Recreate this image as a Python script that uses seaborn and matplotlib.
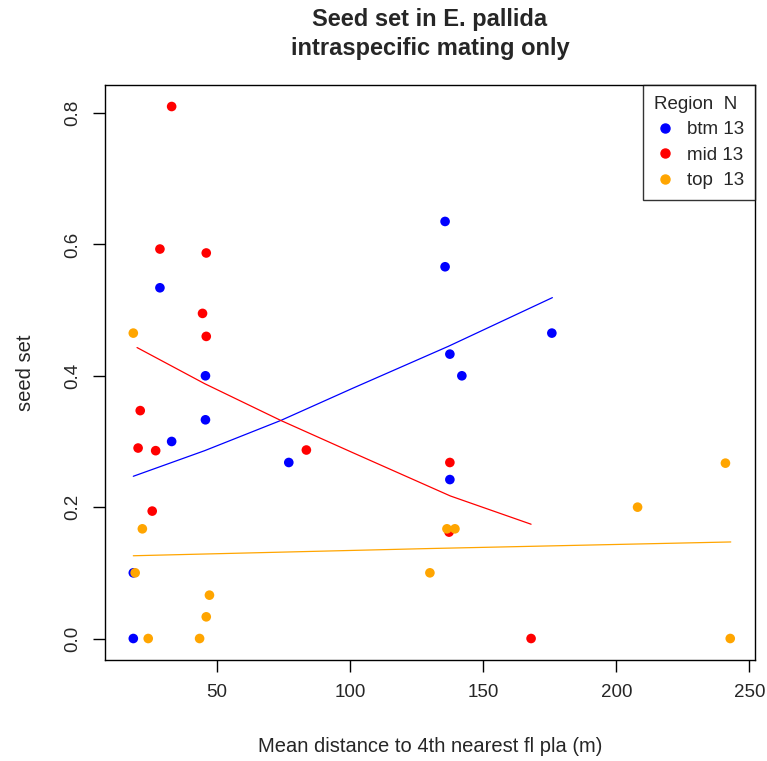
import numpy as np
import pandas as pd
import seaborn as sns
import matplotlib.pyplot as plt
from matplotlib.lines import Line2D

# Werte
btm_x = [18.6, 18.6, 28.6, 33.0, 45.7, 45.7, 77.0, 135.7, 135.7, 137.5, 142.0, 137.5, 175.8]
btm_y = [0.100, 0.000, 0.534, 0.300, 0.400, 0.333, 0.268, 0.635, 0.566, 0.433, 0.400, 0.242, 0.465]

mid_x = [33.0, 28.6, 46.0, 44.6, 46.0, 21.2, 20.4, 27.0, 25.7, 83.6, 137.5, 137.2, 168.0]
mid_y = [0.810, 0.593, 0.587, 0.495, 0.460, 0.347, 0.290, 0.286, 0.194, 0.287, 0.268, 0.162, 0.000]

top_x = [18.6, 22.0, 19.3, 24.2, 43.5, 46.0, 47.2, 136.4, 139.4, 130.0, 208.0, 241.0, 242.8]
top_y = [0.465, 0.167, 0.100, 0.000, 0.000, 0.033, 0.066, 0.167, 0.167, 0.100, 0.200, 0.267, 0.000]

# Angepasste Kurven
btm_fit_x = [18.6, 45.4, 74.0, 101.0, 137.0, 176.0]
btm_fit_y = [0.247, 0.286, 0.332, 0.381, 0.445, 0.519]
mid_fit_x = [20.0, 45.4, 74.0, 101.0, 137.7, 168.0]
mid_fit_y = [0.443, 0.388, 0.332, 0.283, 0.217, 0.174]
top_fit_x = [18.6, 130.0, 243.0]
top_fit_y = [0.126, 0.137, 0.147]

regions = ["btm", "mid", "top"]
farben = {"btm": "#0000FF", "mid": "#FF0000", "top": "#FFA500"}

df = pd.DataFrame({
    "dist": btm_x + mid_x + top_x,
    "seed": btm_y + mid_y + top_y,
    "region": ["btm"] * len(btm_x) + ["mid"] * len(mid_x) + ["top"] * len(top_x),
})
fits = pd.DataFrame({
    "dist": btm_fit_x + mid_fit_x + top_fit_x,
    "seed": btm_fit_y + mid_fit_y + top_fit_y,
    "region": ["btm"] * len(btm_fit_x) + ["mid"] * len(mid_fit_x) + ["top"] * len(top_fit_x),
})

sns.set_style("white")
plt.rcParams["font.family"] = ["Liberation Sans", "DejaVu Sans"]

fig = plt.figure(figsize=(7.67, 7.61), dpi=100)
ax = fig.add_axes([0.137, 0.133, 0.847, 0.755])

sns.lineplot(data=fits, x="dist", y="seed", hue="region", palette=farben,
             hue_order=regions, linewidth=0.9, legend=False, sort=True,
             estimator=None, ax=ax)
sns.scatterplot(data=df, x="dist", y="seed", hue="region", palette=farben,
                hue_order=regions, s=48, linewidth=0, legend=False, ax=ax)

ax.set_xlim(8, 252)
ax.set_ylim(-0.0324, 0.8424)
ax.set_xticks([50, 100, 150, 200, 250])
ax.set_yticks([0.0, 0.2, 0.4, 0.6, 0.8])
ax.set_yticklabels(["0.0", "0.2", "0.4", "0.6", "0.8"], rotation=90, va="center")
ax.tick_params(axis="both", direction="out", length=8.5, width=1, labelsize=13.5,
               color="black", bottom=True, left=True, pad=9)
for sp in ax.spines.values():
    sp.set_color("black")
    sp.set_linewidth(1)

ax.set_xlabel("Mean distance to 4th nearest fl pla (m)", fontsize=14.5, labelpad=26)
ax.set_ylabel("seed set", fontsize=14.5, labelpad=21)
ax.set_title("Seed set in E. pallida\nintraspecific mating only", fontsize=17,
             fontweight="bold", pad=22, linespacing=1.3)

labels = ["btm 13", "mid 13", "top  13"]
handles = [Line2D([], [], marker="o", linestyle="", color=farben[r], markersize=6.5)
           for r in regions]
leg = ax.legend(handles, labels, title="Region  N", loc="upper right",
                borderaxespad=0, fancybox=False, frameon=True, fontsize=13.5,
                title_fontsize=13.5, handletextpad=0.6, handlelength=1.2,
                labelspacing=0.45, alignment="left", borderpad=0.55)
leg.get_frame().set_edgecolor("black")
leg.get_frame().set_linewidth(1)

plt.savefig("out.png", dpi=100)
plt.close()
